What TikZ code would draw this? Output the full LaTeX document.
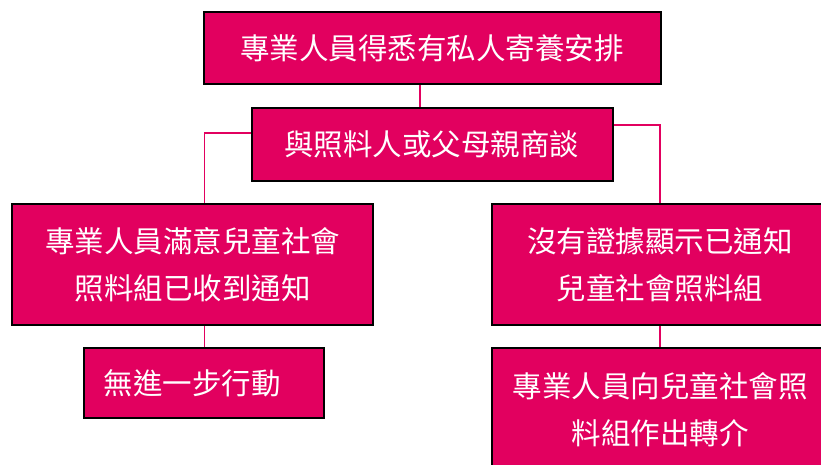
\documentclass[tikz,border=0pt]{standalone}
\usepackage{fontspec}
\newfontfamily\cjk{Noto Sans CJK TC}
\usetikzlibrary{calc}
\definecolor{boxfill}{HTML}{E2005F}
\definecolor{linkcol}{HTML}{E2005F}
\tikzset{
  box/.style={draw=black, line width=1.6pt, fill=boxfill, text=white, inner sep=0pt,
    align=center, font=\cjk\fontsize{29.5}{47}\selectfont},
  lbl/.style={text=white, inner sep=0pt, font=\cjk\fontsize{29.5}{47}\selectfont},
  link/.style={draw=linkcol, line width=1.3pt}
}
\begin{document}
\begin{tikzpicture}[x=1pt,y=-1pt]
\useasboundingbox (0,0) rectangle (821,464);
\node[box, minimum width=457pt, minimum height=72pt] (b1) at (432.5,48) {};
\node[lbl] (t1) at (432,48) {專業人員得悉有私人寄養安排};
\node[box, minimum width=361pt, minimum height=73pt] (b2) at (432.5,144.5) {};
\node[lbl] (t2) at (431.5,144.5) {與照料人或父母親商談};
\node[box, minimum width=361pt, minimum height=121pt] (b3) at (192.5,264.5) {專業人員滿意兒童社會\\照料組已收到通知};
\node[box, minimum width=336pt, minimum height=121pt] (b4) at (660,264.5) {沒有證據顯示已通知\\兒童社會照料組};
\node[box, minimum width=240pt, minimum height=70pt] (b5) at (204,383) {};
\node[lbl] (t5) at (192,383) {無進一步行動};
\node[box, minimum width=336pt, minimum height=124pt] (b6) at (660,410) {專業人員向兒童社會照\\料組作出轉介};
\coordinate (xa) at (420,0);
\coordinate (xl) at (204.5,0);
\coordinate (yl) at (0,133);
\coordinate (yr) at (0,125);
\draw[link] (b1.south -| xa) -- (b2.north -| xa);
\draw[link] (b2.west |- yl) -| (b3.north -| xl);
\draw[link] (b2.east |- yr) -| (b4.north);
\draw[link] (b3.south -| xl) -- (b5.north -| xl);
\draw[link] (b4.south) -- (b6.north);
\end{tikzpicture}
\end{document}
